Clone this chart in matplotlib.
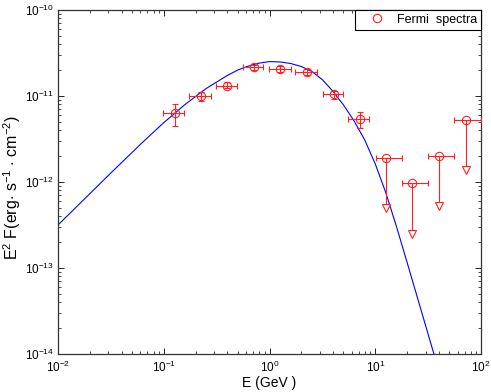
import numpy as np
import matplotlib
matplotlib.use("Agg")
import matplotlib.pyplot as plt
from matplotlib.lines import Line2D

plt.rcParams['font.family'] = ['Liberation Sans', 'DejaVu Sans']
plt.rcParams['mathtext.fontset'] = 'custom'
plt.rcParams['mathtext.rm'] = 'Liberation Sans'
plt.rcParams['mathtext.it'] = 'Liberation Sans:italic'
plt.rcParams['mathtext.bf'] = 'Liberation Sans:bold'

# Fermi data points (GeV, erg s^-1 cm^-2)
E_pts = [0.128, 0.225, 0.40, 0.713, 1.26, 2.26, 4.05, 7.23]
E_lo = [0.099, 0.175, 0.312, 0.557, 0.995, 1.75, 3.18, 5.57]
E_hi = [0.157, 0.278, 0.497, 0.873, 1.585, 2.79, 4.92, 8.8]
F_pts = [6.3e-12, 1.0e-11, 1.32e-11, 2.16e-11, 2.06e-11, 1.88e-11, 1.05e-11, 5.4e-12]
F_lo = [4.5e-12, 8.8e-12, 1.23e-11, 2.0e-11, 1.92e-11, 1.74e-11, 9.2e-12, 4.3e-12]
F_hi = [8.07e-12, 1.12e-11, 1.44e-11, 2.29e-11, 2.21e-11, 2.04e-11, 1.15e-11, 6.6e-12]

# Upper limits
E_ul = [12.7, 22.5, 40.4, 71.6]
E_ul_lo = [10.1, 17.8, 31.6, 56.0]
E_ul_hi = [17.8, 31.6, 56.0, 100.0]
F_ul = [1.88e-12, 9.7e-13, 2.0e-12, 5.2e-12]
F_ul_arrow = [5.0e-13, 2.5e-13, 5.2e-13, 1.37e-12]

# Model curve (log10 E, log10 E^2F)
curve_logE = [-2.0, -1.5, -1.2, -1.0, -0.8, -0.6, -0.4, -0.3, -0.2, -0.1, 0.0, 0.1,
              0.2, 0.3, 0.4, 0.5, 0.6, 0.7, 0.8, 0.9, 1.0, 1.1, 1.2, 1.3, 1.4, 1.5, 1.6]
curve_logF = [-12.500, -11.895, -11.538, -11.310, -11.100, -10.914, -10.762, -10.698,
              -10.652, -10.618, -10.600, -10.604, -10.622, -10.657, -10.714, -10.810,
              -10.945, -11.105, -11.290, -11.510, -11.790, -12.125, -12.515, -12.930,
              -13.350, -13.770, -14.190]

fig = plt.figure(figsize=(4.91, 3.92), dpi=100)
ax = fig.add_axes([58/491, 38/392, 423/491, 344/392])

ax.plot(10**np.array(curve_logE), 10**np.array(curve_logF), color='blue', lw=0.8, zorder=2)

E = np.array(E_pts); F = np.array(F_pts)
xerr = [E - np.array(E_lo), np.array(E_hi) - E]
yerr = [F - np.array(F_lo), np.array(F_hi) - F]
red = '#ff2020'
ax.errorbar(E, F, xerr=xerr, yerr=yerr, fmt='o', mfc='none', mec=red, ecolor=red,
            ms=6, mew=0.8, elinewidth=0.8, capsize=2.2, capthick=0.8, zorder=3)

Eu = np.array(E_ul); Fu = np.array(F_ul)
xerr_u = [Eu - np.array(E_ul_lo), np.array(E_ul_hi) - Eu]
ax.errorbar(Eu, Fu, xerr=xerr_u, fmt='o', mfc='none', mec=red, ecolor=red,
            ms=6, mew=0.8, elinewidth=0.8, capsize=2.2, capthick=0.8, zorder=3)
ax.vlines(Eu, F_ul_arrow, Fu, color=red, lw=0.8, zorder=3)
ax.plot(Eu, F_ul_arrow, 'v', mfc='white', mec=red, ms=6, mew=0.8, ls='none', zorder=4)

ax.set_xscale('log'); ax.set_yscale('log')
ax.set_xlim(1e-2, 1e2); ax.set_ylim(1e-14, 1e-10)

ax.tick_params(which='both', direction='in', top=True, right=True, labelsize=8.5)
ax.tick_params(axis='x', pad=4)
ax.tick_params(axis='y', pad=3)
ax.tick_params(which='major', length=4, width=0.6)
ax.tick_params(which='minor', length=2, width=0.5)
for s in ax.spines.values():
    s.set_linewidth(0.9)
    s.set_color('#333333')

ax.set_xlabel('E (GeV )', fontsize=10)
ax.set_ylabel(r'E$^2$ F(erg$\cdot$ s$^{-1}$ $\cdot$ cm$^{-2}$)', fontsize=11.5)
ax.xaxis.set_label_coords(0.5, -0.064)
ax.yaxis.set_label_coords(-0.083, 0.485)

handle = Line2D([], [], marker='o', ls='none', mfc='none', mec=red, ms=6, mew=0.8)
leg = ax.legend([handle], ['Fermi  spectra'], loc='upper right', borderaxespad=0,
                fancybox=False, edgecolor='black', framealpha=1, fontsize=9,
                handlelength=2.9, handletextpad=0.15, borderpad=0.3)
leg.get_frame().set_linewidth(0.8)

fig.savefig('out.png', dpi=100)
